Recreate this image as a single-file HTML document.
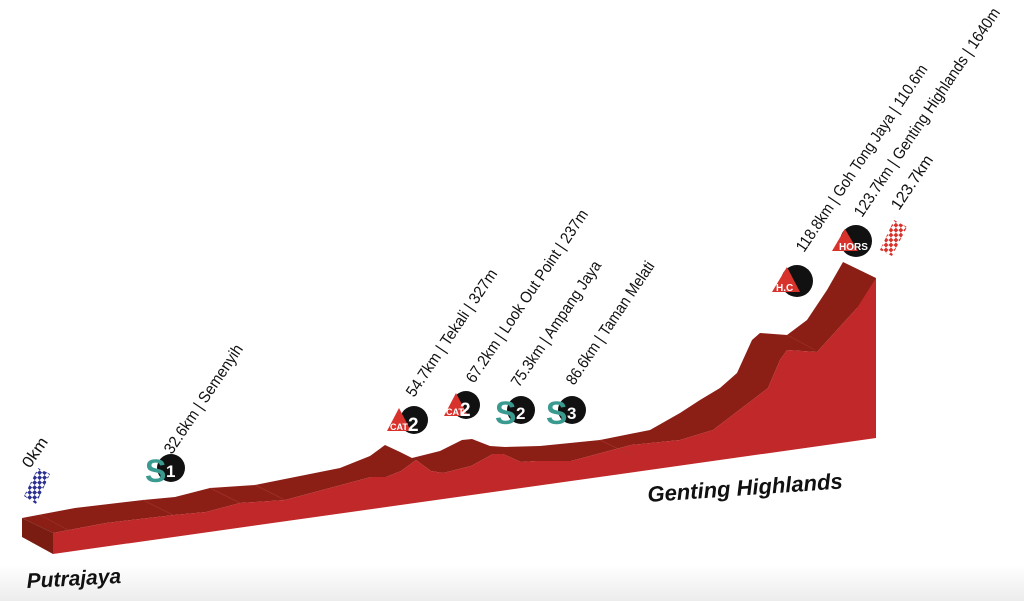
<!DOCTYPE html>
<html><head><meta charset="utf-8"><style>
html,body{margin:0;padding:0;background:#fff;}
svg{display:block}
.lbl{font-family:"Liberation Sans Narrow","Liberation Sans",sans-serif;font-size:16px;fill:#111;}
.city{font-family:"Liberation Sans",sans-serif;font-weight:bold;font-style:italic;fill:#111;}
.s{font-family:"Liberation Sans",sans-serif;font-weight:bold;}
</style></head><body>
<svg width="1024" height="601" viewBox="0 0 1024 601" xmlns="http://www.w3.org/2000/svg">
<defs>
<linearGradient id="sh" x1="0" y1="0" x2="0" y2="1">
<stop offset="0" stop-color="#fff"/><stop offset="1" stop-color="#ececec"/>
</linearGradient>
<pattern id="chkB" width="7" height="7" patternUnits="userSpaceOnUse" patternTransform="rotate(45)">
<rect width="3.5" height="3.5" fill="#2b2f8f"/><rect x="3.5" y="3.5" width="3.5" height="3.5" fill="#2b2f8f"/>
</pattern>
<pattern id="chkR" width="7" height="7" patternUnits="userSpaceOnUse" patternTransform="rotate(45)">
<rect width="3.5" height="3.5" fill="#d8322c"/><rect x="3.5" y="3.5" width="3.5" height="3.5" fill="#d8322c"/>
</pattern>
</defs>
<rect x="0" y="565" width="1024" height="36" fill="url(#sh)"/>

<polygon fill="#8b1f16" points="22,518 75,508 143,500 175,497 210,488 255,485 340,468 355,462 370,456 385,445 400,452 412,458 440,451 462,440 472,439 490,446 505,447 540,446 600,440 650,430 680,413 700,400 720,388 737,373 752,340 760,333 787,335 807,320 827,290 843,262 876,278 876,300 857,308 817,352 787,350 780,360 768,388 713,430 680,440 631,445 571,461 536,461 521,462 503,454 493,454 471,466 443,473 431,471 416,460 401,471 386,477 371,477 285,500 240,503 206,512 174,515 106,523 53,533"/>
<polygon fill="#7a1c12" points="22,518 53,533 53,554 22,537"/>
<polygon fill="#c0282a" points="53,533 106,523 174,515 206,512 240,503 285,500 371,477 386,477 401,471 416,460 431,471 443,473 471,466 493,454 503,454 521,462 536,461 571,461 631,445 680,440 713,430 768,388 780,360 787,350 817,352 857,308 876,278 876,438 53,554"/>
<g stroke="#a8392f" stroke-width="0.7" opacity="0.7">
<line x1="40" y1="515" x2="70" y2="531"/><line x1="143" y1="500" x2="173" y2="515"/>
<line x1="210" y1="488" x2="240" y2="503"/><line x1="255" y1="485" x2="285" y2="500"/>
<line x1="600" y1="440" x2="631" y2="455"/><line x1="787" y1="335" x2="815" y2="350"/>
</g>

<g class="lbl">
<text transform="translate(30,469) rotate(-56)" textLength="33" lengthAdjust="spacingAndGlyphs">0km</text>
<text transform="translate(172,455) rotate(-56)" textLength="128" lengthAdjust="spacingAndGlyphs">32.6km | Semenyih</text>
<text transform="translate(414,398) rotate(-56)" textLength="150" lengthAdjust="spacingAndGlyphs">54.7km | Tekali | 327m</text>
<text transform="translate(474,384) rotate(-56)" textLength="205" lengthAdjust="spacingAndGlyphs">67.2km | Look Out Point | 237m</text>
<text transform="translate(519,388) rotate(-56)" textLength="148" lengthAdjust="spacingAndGlyphs">75.3km | Ampang Jaya</text>
<text transform="translate(574,386) rotate(-56)" textLength="145" lengthAdjust="spacingAndGlyphs">86.6km | Taman Melati</text>
<text transform="translate(804,253) rotate(-56)" textLength="222" lengthAdjust="spacingAndGlyphs">118.8km | Goh Tong Jaya | 110.6m</text>
<text transform="translate(862,218) rotate(-56)" textLength="248" lengthAdjust="spacingAndGlyphs">123.7km | Genting Highlands | 1640m</text>
<text transform="translate(899,211) rotate(-56)" textLength="62" lengthAdjust="spacingAndGlyphs">123.7km</text>
</g>

<polygon points="24,496 38,468 50,474 36,504" fill="url(#chkB)"/>
<polygon points="880,250 894,220 907,227 892,256" fill="url(#chkR)"/>

<g class="s">
<circle cx="171" cy="468" r="14" fill="#111"/><text x="145" y="482" font-size="32" fill="#3a9a8f">S</text><text x="166" y="477" font-size="17" fill="#fff">1</text>
<circle cx="521" cy="410" r="14" fill="#111"/><text x="495" y="424" font-size="32" fill="#3a9a8f">S</text><text x="516" y="419" font-size="17" fill="#fff">2</text>
<circle cx="572" cy="410" r="14" fill="#111"/><text x="546" y="424" font-size="32" fill="#3a9a8f">S</text><text x="567" y="419" font-size="17" fill="#fff">3</text>
</g>
<g class="s">
<circle cx="414" cy="420" r="14" fill="#111"/><polygon points="387,431 399,408 411,431" fill="#d8322c"/>
<text x="390" y="430" font-size="9" fill="#fff">CAT</text><text x="408" y="431" font-size="19" fill="#fff">2</text>
<circle cx="466" cy="405" r="14" fill="#111"/><polygon points="444,416 456,393 468,416" fill="#d8322c"/>
<text x="446" y="415" font-size="9" fill="#fff">CAT</text><text x="460" y="416" font-size="19" fill="#fff">2</text>
<circle cx="797" cy="281" r="16" fill="#111"/><polygon points="772,292 787,267 800,292" fill="#d8322c"/>
<text x="776" y="291" font-size="10" fill="#fff">H.C</text>
<circle cx="856" cy="241" r="16" fill="#111"/><polygon points="832,251 845,229 858,251" fill="#d8322c"/>
<text x="839" y="250" font-size="10" fill="#fff">HORS</text>
</g>

<text class="city" x="27" y="588" font-size="21" transform="rotate(-3 27 588)">Putrajaya</text>
<text class="city" x="648" y="502" font-size="22" transform="rotate(-4 648 502)">Genting Highlands</text>
</svg>
</body></html>
